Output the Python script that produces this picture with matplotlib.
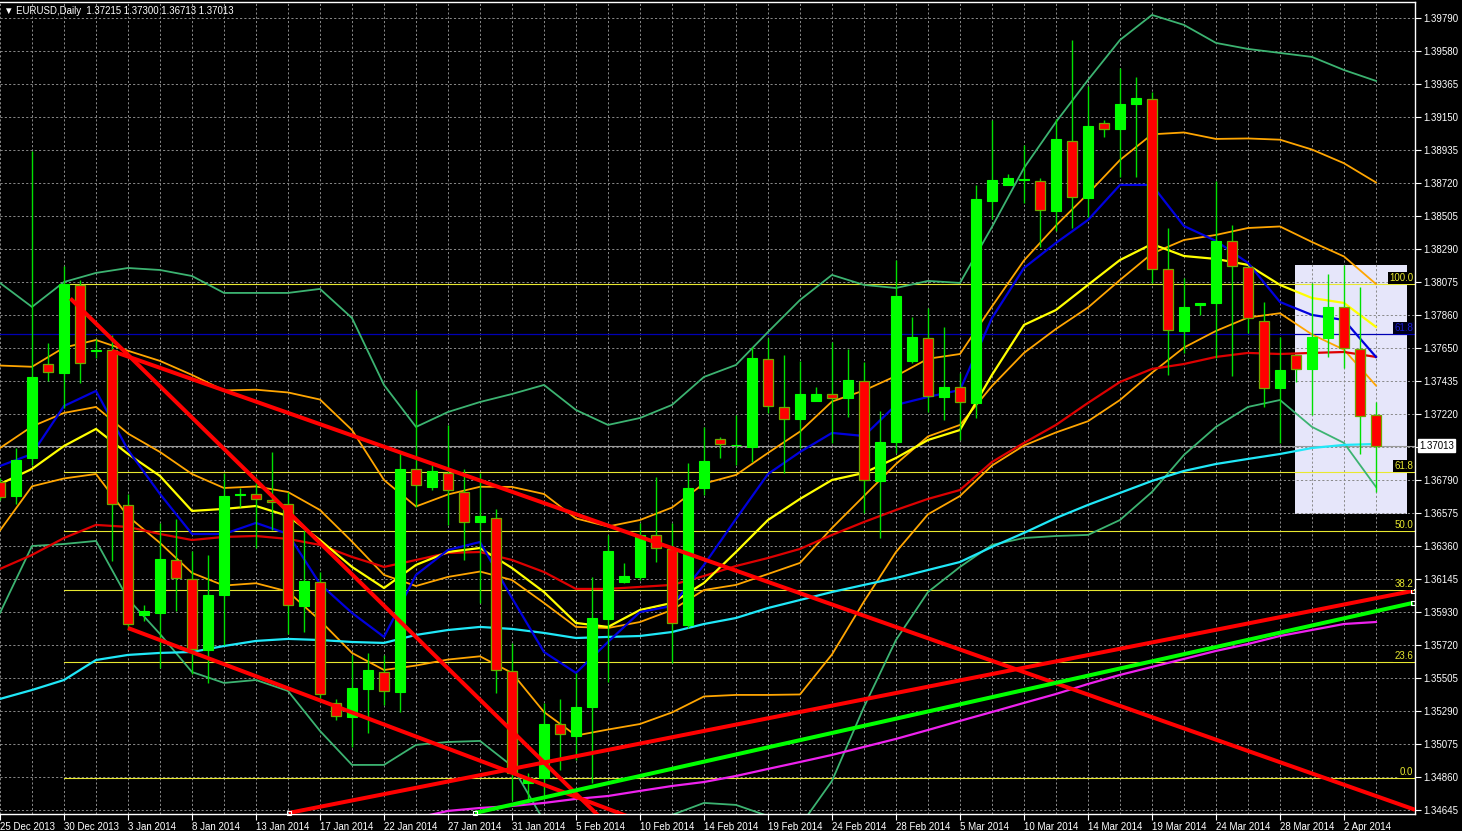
import numpy as np
import pandas as pd
import matplotlib
matplotlib.use("Agg")
import matplotlib.pyplot as plt
from matplotlib.patches import Rectangle

plt.rcParams['font.family'] = ['Liberation Sans', 'DejaVu Sans']

# daily bars, the feed has Sunday candles but no Saturdays
days = pd.date_range('2013-12-25', '2014-04-04', freq='D')
days = days[days.dayofweek != 5]

opens = [1.36777, 1.36686, 1.36933, 1.37544, 1.37486, 1.38058, 1.37630, 1.37635, 1.36628, 1.35913,
         1.35926, 1.36270, 1.36147, 1.35685, 1.36043, 1.36693, 1.36699, 1.36660, 1.36637, 1.35971,
         1.36127, 1.35341, 1.35250, 1.35432, 1.35542, 1.35412, 1.36862, 1.36745, 1.36836, 1.36712,
         1.36517, 1.36543, 1.35549, 1.34820, 1.34853, 1.35204, 1.35126, 1.35315, 1.35887, 1.36127,
         1.36160, 1.36433, 1.36342, 1.35848, 1.36738, 1.37057, 1.37015, 1.37005, 1.37577, 1.37265,
         1.37187, 1.37304, 1.37349, 1.37323, 1.37434, 1.36784, 1.37037, 1.37564, 1.37713, 1.37330,
         1.37395, 1.37291, 1.38604, 1.38708, 1.38743, 1.38734, 1.38539, 1.38994, 1.38623, 1.39111,
         1.39072, 1.39234, 1.39267, 1.38162, 1.37759, 1.37928, 1.37941, 1.38345, 1.38175, 1.37824,
         1.37388, 1.37603, 1.37512, 1.37713, 1.37915, 1.37642, 1.37215]
highs = [1.36803, 1.36998, 1.38929, 1.37681, 1.38181, 1.38090, 1.37707, 1.37733, 1.36699, 1.35978,
         1.36511, 1.36537, 1.36329, 1.36303, 1.36836, 1.36738, 1.36810, 1.36972, 1.36712, 1.36465,
         1.36192, 1.35367, 1.35653, 1.35666, 1.35653, 1.36966, 1.37375, 1.36888, 1.37148, 1.36862,
         1.36836, 1.36602, 1.35731, 1.34885, 1.35341, 1.35367, 1.35536, 1.36160, 1.36433, 1.36251,
         1.36511, 1.36810, 1.36511, 1.36901, 1.37135, 1.37070, 1.37213, 1.37655, 1.37713, 1.37603,
         1.37564, 1.37395, 1.37687, 1.37642, 1.37557, 1.37239, 1.38220, 1.37850, 1.37908, 1.37785,
         1.37486, 1.38708, 1.39130, 1.38779, 1.38968, 1.38753, 1.39137, 1.39650, 1.39351, 1.39130,
         1.39468, 1.39410, 1.39312, 1.38428, 1.38103, 1.37941, 1.38734, 1.38448, 1.38175, 1.37947,
         1.37720, 1.37603, 1.38071, 1.38129, 1.38188, 1.38045, 1.37300]
lows = [1.36660, 1.36634, 1.36888, 1.37434, 1.37258, 1.37421, 1.37583, 1.36264, 1.35815, 1.35874,
        1.35568, 1.35939, 1.35529, 1.35471, 1.35718, 1.36615, 1.36348, 1.36465, 1.35789, 1.35802,
        1.35360, 1.35230, 1.35055, 1.35146, 1.35328, 1.35282, 1.36615, 1.36725, 1.36498, 1.36270,
        1.35991, 1.35405, 1.34710, 1.34710, 1.34743, 1.34905, 1.34970, 1.34820, 1.35477, 1.36121,
        1.36140, 1.36257, 1.35601, 1.35828, 1.36693, 1.36933, 1.36888, 1.36907, 1.37226, 1.36836,
        1.36998, 1.37304, 1.37031, 1.37200, 1.36576, 1.36413, 1.36966, 1.37551, 1.37232, 1.37180,
        1.37050, 1.37193, 1.38487, 1.38708, 1.38591, 1.38305, 1.38409, 1.38428, 1.38500, 1.39020,
        1.38760, 1.38760, 1.38071, 1.37473, 1.37616, 1.37863, 1.37583, 1.37466, 1.37746, 1.37265,
        1.37031, 1.37427, 1.37213, 1.37590, 1.37518, 1.36959, 1.36713]
closes = [1.36680, 1.36923, 1.37460, 1.37492, 1.38064, 1.37551, 1.37635, 1.36634, 1.35854, 1.35939,
          1.36277, 1.36153, 1.35692, 1.36043, 1.36686, 1.36699, 1.36667, 1.36647, 1.35978, 1.36134,
          1.35399, 1.35256, 1.35438, 1.35555, 1.35419, 1.36862, 1.36758, 1.36849, 1.36725, 1.36517,
          1.36556, 1.35555, 1.34885, 1.34853, 1.35204, 1.35139, 1.35315, 1.35893, 1.36329, 1.36166,
          1.36433, 1.36348, 1.35861, 1.36738, 1.36914, 1.37024, 1.37020, 1.37583, 1.37271, 1.37187,
          1.37349, 1.37349, 1.37323, 1.37440, 1.36790, 1.37037, 1.37986, 1.37720, 1.37336, 1.37395,
          1.37297, 1.38617, 1.38740, 1.38753, 1.38747, 1.38545, 1.39007, 1.38630, 1.39091, 1.39072,
          1.39234, 1.39273, 1.38162, 1.37765, 1.37915, 1.37941, 1.38345, 1.38181, 1.37843, 1.37388,
          1.37505, 1.37512, 1.37720, 1.37915, 1.37648, 1.37206, 1.37013]

# indicator values read every second bar (bars 0, 2, ... 86)
ma_blue = [1.36881, 1.36959, 1.37271, 1.37369, 1.36985, 1.36699, 1.36439, 1.36439, 1.36511, 1.36439,
           1.36114, 1.35926, 1.35770, 1.36173, 1.36335, 1.36387, 1.36023, 1.35672, 1.35536, 1.35737,
           1.35932, 1.35971, 1.36238, 1.36537, 1.36829, 1.36972, 1.37096, 1.37076, 1.37278, 1.37330,
           1.37375, 1.37843, 1.38168, 1.38331, 1.38480, 1.38708, 1.38708, 1.38441, 1.38344, 1.38201,
           1.37947, 1.37863, 1.37830, 1.37590]
ma_yellow = [1.36764, 1.36862, 1.37011, 1.37122, 1.36959, 1.36816, 1.36589, 1.36602, 1.36621, 1.36556,
             1.36400, 1.36225, 1.36088, 1.36238, 1.36322, 1.36348, 1.36218, 1.36062, 1.35861, 1.35835,
             1.35945, 1.35991, 1.36121, 1.36322, 1.36530, 1.36667, 1.36790, 1.36836, 1.36933, 1.37050,
             1.37115, 1.37473, 1.37798, 1.37895, 1.38058, 1.38220, 1.38324, 1.38246, 1.38227, 1.38188,
             1.38058, 1.37973, 1.37941, 1.37785]
ma_red = [1.36212, 1.36303, 1.36413, 1.36498, 1.36485, 1.36439, 1.36400, 1.36420, 1.36426, 1.36407,
          1.36368, 1.36290, 1.36225, 1.36270, 1.36316, 1.36322, 1.36270, 1.36192, 1.36082, 1.36082,
          1.36095, 1.36108, 1.36166, 1.36231, 1.36283, 1.36342, 1.36433, 1.36517, 1.36595, 1.36667,
          1.36725, 1.36907, 1.37031, 1.37148, 1.37291, 1.37427, 1.37512, 1.37544, 1.37590, 1.37616,
          1.37609, 1.37616, 1.37622, 1.37590]
ma_cyan = [1.35367, 1.35425, 1.35490, 1.35620, 1.35653, 1.35666, 1.35672, 1.35711, 1.35744, 1.35757,
           1.35750, 1.35737, 1.35731, 1.35783, 1.35815, 1.35835, 1.35822, 1.35796, 1.35763, 1.35770,
           1.35776, 1.35802, 1.35854, 1.35893, 1.35958, 1.36010, 1.36062, 1.36108, 1.36153, 1.36205,
           1.36257, 1.36355, 1.36446, 1.36543, 1.36628, 1.36706, 1.36784, 1.36849, 1.36894, 1.36927,
           1.36959, 1.36998, 1.37018, 1.37024]
# magenta average only enters the window from bar 26
ma_magenta = [1.34593, 1.34639, 1.34658, 1.34671, 1.34691, 1.34717, 1.34736, 1.34769, 1.34801, 1.34827,
              1.34866, 1.34912, 1.34957, 1.35003, 1.35055, 1.35107, 1.35165, 1.35224, 1.35282, 1.35341,
              1.35399, 1.35464, 1.35523, 1.35575, 1.35627, 1.35679, 1.35724, 1.35776, 1.35815, 1.35854,
              1.35867]
bb_up2 = [1.38071, 1.37915, 1.38077, 1.38136, 1.38168, 1.38155, 1.38116, 1.38006, 1.38006, 1.38006,
          1.38032, 1.37843, 1.37408, 1.37135, 1.37232, 1.37297, 1.37349, 1.37408, 1.37245, 1.37148,
          1.37193, 1.37278, 1.37460, 1.37538, 1.37752, 1.37960, 1.38123, 1.38058, 1.38038, 1.38084,
          1.38071, 1.38435, 1.38818, 1.39117, 1.39390, 1.39650, 1.39813, 1.39748, 1.39631, 1.39592,
          1.39566, 1.39540, 1.39455, 1.39384]
bb_up1 = [1.37534, 1.37526, 1.37651, 1.37700, 1.37630, 1.37564, 1.37473, 1.37372, 1.37377, 1.37359,
          1.37313, 1.37115, 1.36790, 1.36618, 1.36696, 1.36746, 1.36745, 1.36699, 1.36540, 1.36488,
          1.36530, 1.36611, 1.36767, 1.36823, 1.36966, 1.37105, 1.37300, 1.37372, 1.37466, 1.37578,
          1.37609, 1.37918, 1.38217, 1.38444, 1.38651, 1.38870, 1.39037, 1.39049, 1.39007, 1.39010,
          1.39002, 1.38938, 1.38849, 1.38724]
bb_mid = [1.36998, 1.37138, 1.37226, 1.37265, 1.37092, 1.36972, 1.36829, 1.36738, 1.36748, 1.36712,
          1.36595, 1.36390, 1.36173, 1.36101, 1.36160, 1.36195, 1.36140, 1.35991, 1.35835, 1.35828,
          1.35867, 1.35945, 1.36075, 1.36108, 1.36179, 1.36251, 1.36478, 1.36686, 1.36894, 1.37073,
          1.37148, 1.37401, 1.37616, 1.37772, 1.37911, 1.38090, 1.38262, 1.38350, 1.38383, 1.38428,
          1.38438, 1.38337, 1.38243, 1.38064]
bb_dn1 = [1.36462, 1.36749, 1.36800, 1.36829, 1.36554, 1.36381, 1.36186, 1.36104, 1.36119, 1.36065,
          1.35877, 1.35666, 1.35555, 1.35584, 1.35623, 1.35644, 1.35536, 1.35282, 1.35129, 1.35168,
          1.35204, 1.35279, 1.35383, 1.35393, 1.35393, 1.35396, 1.35656, 1.36000, 1.36322, 1.36567,
          1.36686, 1.36884, 1.37014, 1.37099, 1.37172, 1.37310, 1.37487, 1.37651, 1.37759, 1.37846,
          1.37874, 1.37736, 1.37637, 1.37404]
bb_dn2 = [1.35926, 1.36361, 1.36374, 1.36394, 1.36017, 1.35789, 1.35542, 1.35471, 1.35490, 1.35419,
          1.35159, 1.34938, 1.34938, 1.35068, 1.35087, 1.35094, 1.34931, 1.34574, 1.34424, 1.34509,
          1.34541, 1.34613, 1.34691, 1.34678, 1.34606, 1.34541, 1.34834, 1.35315, 1.35750, 1.36062,
          1.36225, 1.36368, 1.36413, 1.36426, 1.36433, 1.36530, 1.36712, 1.36953, 1.37135, 1.37265,
          1.37310, 1.37135, 1.37031, 1.36745]

fib_names = ['0.0', '23.6', '38.2', '50.0', '61.8', '100.0']
fib_prices = [1.34853, 1.35607, 1.36076, 1.36459, 1.36840, 1.38064]
fib_start = 4
blue_level = 1.37739
last_price = 1.37013

# trend line anchors: (bar, price)
trend_red = [((4.4, 1.3797), (36.4, 1.3471)),
             ((7.0, 1.37629), (86.0, 1.34736)),
             ((8.0, 1.35828), (38.0, 1.34652)),
             ((18.06, 1.34626), (88.3, 1.36069))]
trend_green = ((29.69, 1.34626), (88.3, 1.35991))
box = (80.94, 1.36569, 87.94, 1.38188)

ytick_labels = ['1.39790', '1.39580', '1.39365', '1.39150', '1.38935', '1.38720', '1.38505', '1.38290',
                '1.38075', '1.37860', '1.37650', '1.37435', '1.37220', '1.37005', '1.36790', '1.36575',
                '1.36360', '1.36145', '1.35930', '1.35720', '1.35505', '1.35290', '1.35075', '1.34860',
                '1.34645']

x = np.arange(len(days))
xs = x[::2]
xm = np.arange(26, 87, 2)

fig = plt.figure(figsize=(14.62, 8.31), dpi=100, facecolor='black')
ax = fig.add_axes([0, 17 / 831, 1415 / 1462, 812 / 831])
ax.set_facecolor('black')
ax.set_axisbelow(True)
ax.set_xlim(0, 88.44)
ax.set_ylim(1.34619, 1.39897)

ax.add_patch(Rectangle((box[0], box[1]), box[2] - box[0], box[3] - box[1],
                       facecolor='#e6e6fa', edgecolor='none', zorder=0.2))

# fibo + horizontal lines
for name, p in zip(fib_names, fib_prices):
    ax.plot([fib_start, 88.44], [p, p], color='#e8e830', lw=0.8, zorder=1.6)
    ax.annotate(name, xy=(1, p), xycoords=('axes fraction', 'data'), xytext=(-2, 1),
                textcoords='offset pixels', ha='right', va='bottom', color='#e8e830', fontsize=7,
                bbox=dict(boxstyle='square,pad=0.1', fc='black', ec='none'), zorder=6)
ax.axhline(blue_level, color='#0000b4', lw=0.9, zorder=1.6)
ax.annotate('61.8', xy=(1, blue_level), xycoords=('axes fraction', 'data'), xytext=(-2, 1),
            textcoords='offset pixels', ha='right', va='bottom', color='#1a1ad0', fontsize=7,
            bbox=dict(boxstyle='square,pad=0.1', fc='#000018', ec='none'), zorder=6)
ax.axhline(last_price, color='#9a9a9a', lw=0.8, zorder=1.7)

# indicators
ax.plot(xs, bb_up2, color='#3cb371', lw=1.3, zorder=2)
ax.plot(xs, bb_dn2, color='#3cb371', lw=1.3, zorder=2)
ax.plot(xs, bb_up1, color='#ffa500', lw=1.3, zorder=2)
ax.plot(xs, bb_dn1, color='#ffa500', lw=1.3, zorder=2)
ax.plot(xs, bb_mid, color='#ffa500', lw=1.3, zorder=2)
ax.plot(xs, ma_cyan, color='#20e8f8', lw=1.6, zorder=2)
ax.plot(xm, ma_magenta, color='#ee22ee', lw=1.6, zorder=2)
ax.plot(xs, ma_red, color='#dd0000', lw=1.6, zorder=2)
ax.plot(xs, ma_yellow, color='#ffff00', lw=1.6, zorder=2)
ax.plot(xs, ma_blue, color='#0000dd', lw=1.6, zorder=2)

# candles
o = np.array(opens); h = np.array(highs); l = np.array(lows); c = np.array(closes)
up = c >= o
ax.vlines(x, l, h, color='#00e000', lw=1, zorder=2.9)
body = np.maximum(np.abs(c - o), 0.00002)
ax.bar(x[up], body[up], bottom=o[up], width=0.62, color='#00ff00', edgecolor='#00ff00',
       linewidth=0.8, zorder=3)
ax.bar(x[~up], body[~up], bottom=c[~up], width=0.62, color='#ff0000', edgecolor='#70a800',
       linewidth=0.9, zorder=3)

# trend lines
def trend(a, b, x_end, color):
    (x1, y1), (x2, y2) = a, b
    k = (y2 - y1) / (x2 - x1)
    ax.plot([x1, x_end], [y1, y1 + k * (x_end - x1)], color=color, lw=2.9,
            solid_capstyle='butt', zorder=4)

trend(*trend_red[0], 60, '#ff0000')
trend(*trend_red[1], 88.44, '#ff0000')
trend(*trend_red[2], 60, '#ff0000')
trend(*trend_red[3], trend_red[3][1][0], '#ff0000')
trend(*trend_green, trend_green[1][0], '#00ff00')
for a in (trend_red[3][0], trend_green[0], trend_red[3][1], trend_green[1]):
    ax.plot([a[0]], [a[1]], marker='s', ms=3, mfc='none', mec='white', mew=0.8,
            clip_on=False, zorder=5)

# axes styling
ax.set_yticks([float(s) for s in ytick_labels])
ax.set_yticklabels([s if s != '1.37005' else '' for s in ytick_labels])
ax.yaxis.tick_right()
ax.set_xticks(x[::4])
ax.set_xticklabels([f'{d.day} {d:%b %Y}' for d in days[::4]])
for lbl in ax.get_xticklabels():
    lbl.set_horizontalalignment('left')
ax.set_xticks(xs, minor=True)
ax.tick_params(axis='y', colors='white', length=4, width=0.8, pad=2, labelsize=7)
ax.tick_params(axis='x', which='major', colors='white', length=4, width=0.8, pad=2, labelsize=7)
ax.tick_params(axis='x', which='minor', length=0)
ax.grid(True, axis='y', which='major', color='#8a8a8a', lw=0.7, linestyle=(0, (2.2, 2.2)))
ax.grid(True, axis='x', which='both', color='#8a8a8a', lw=0.7, linestyle=(0, (2.2, 2.2)))
for side in ('top', 'right', 'bottom'):
    ax.spines[side].set_color('white')
    ax.spines[side].set_linewidth(1)
ax.spines['left'].set_visible(False)

ax.annotate(f'{last_price:.5f}', xy=(1, last_price), xycoords=('axes fraction', 'data'),
            xytext=(4, 0), textcoords='offset pixels', ha='left', va='center', color='black',
            fontsize=7, bbox=dict(boxstyle='square,pad=0.15', fc='white', ec='white'),
            annotation_clip=False, zorder=10)
ax.annotate('\u25bc EURUSD,Daily  1.37215 1.37300 1.36713 1.37013', xy=(0, 1),
            xycoords='axes fraction', xytext=(4, -9), textcoords='offset pixels',
            ha='left', va='center', color='white', fontsize=6.9, zorder=10)

fig.savefig('out.png', dpi=100, facecolor='black')
